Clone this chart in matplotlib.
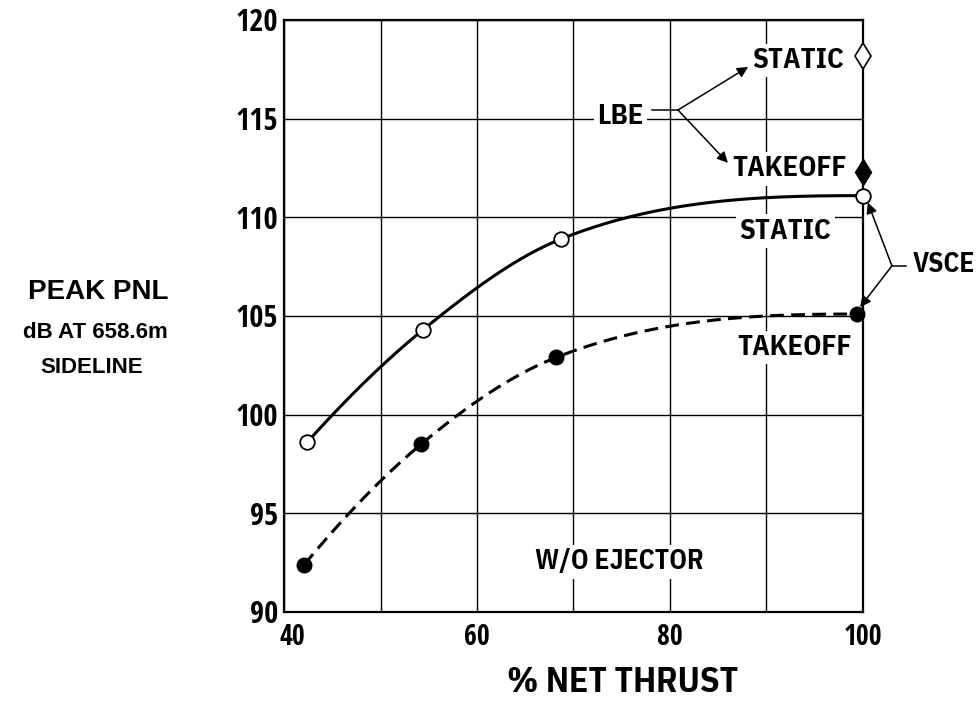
import numpy as np
import matplotlib
matplotlib.use("Agg")
import matplotlib.pyplot as plt
from matplotlib.transforms import ScaledTranslation

# ---- data -------------------------------------------------------------
thrust_static = [42.4, 54.4, 68.7, 100.0]
pnl_static = [98.6, 104.3, 108.9, 111.1]

thrust_takeoff = [42.1, 54.2, 68.2, 99.4]
pnl_takeoff = [92.4, 98.5, 102.9, 105.1]

lbe_thrust = [100.0, 100.0]
lbe_pnl = [118.2, 112.3]          # static, takeoff

x_ticks = [40, 50, 60, 70, 80, 90, 100]
x_tick_labels = ["40", "", "60", "", "80", "", "100"]
y_ticks = [90, 95, 100, 105, 110, 115, 120]

NARROW = ["Open Sans Condensed", "DejaVu Sans"]
LABEL = ["IBM Plex Sans Condensed", "Open Sans Condensed", "DejaVu Sans"]
WIDE = ["Liberation Sans", "DejaVu Sans"]


def smooth(x, y, n=200):
    """Cubic Hermite curve through the points; flat ends where the curve
    levels off."""
    x = np.asarray(x, float)
    y = np.asarray(y, float)
    h = np.diff(x)
    d = np.diff(y) / h
    m = np.zeros_like(x)
    for k in range(1, len(x) - 1):
        secant = (y[k + 1] - y[k - 1]) / (x[k + 1] - x[k - 1])
        parab = (h[k - 1] * d[k] + h[k] * d[k - 1]) / (h[k - 1] + h[k])
        m[k] = 0.5 * (secant + parab)
    m0 = ((2 * h[0] + h[1]) * d[0] - h[0] * d[1]) / (h[0] + h[1])
    m[0] = m0 if np.sign(m0) == np.sign(d[0]) else 0.0
    mn = ((2 * h[-1] + h[-2]) * d[-1] - h[-1] * d[-2]) / (h[-1] + h[-2])
    m[-1] = mn if np.sign(mn) == np.sign(d[-1]) else 0.0
    xs = np.linspace(x[0], x[-1], n)
    idx = np.clip(np.searchsorted(x, xs) - 1, 0, len(x) - 2)
    t = (xs - x[idx]) / h[idx]
    h00 = 2 * t**3 - 3 * t**2 + 1
    h10 = t**3 - 2 * t**2 + t
    h01 = -2 * t**3 + 3 * t**2
    h11 = t**3 - t**2
    ys = (h00 * y[idx] + h10 * h[idx] * m[idx]
          + h01 * y[idx + 1] + h11 * h[idx] * m[idx + 1])
    return xs, ys


fig = plt.figure(figsize=(9.77, 7.04), dpi=100)
ax = fig.add_axes([0.2907, 0.1307, 0.5926, 0.8409])

ax.set_xlim(40, 100)
ax.set_ylim(90, 120)
ax.set_xticks(x_ticks)
ax.set_xticklabels(x_tick_labels)
ax.set_yticks(y_ticks)
ax.set_yticklabels([str(v) for v in y_ticks])
ax.tick_params(axis="both", length=0)
ax.tick_params(axis="x", pad=8)
ax.tick_params(axis="y", pad=4)
for lab in ax.get_xticklabels():
    lab.set_fontfamily(NARROW)
    lab.set_fontweight("bold")
    lab.set_fontsize(20)
for lab in ax.get_yticklabels():
    lab.set_fontfamily(NARROW)
    lab.set_fontweight("bold")
    lab.set_fontsize(22)
# nudge the first x label clear of the "90" label
first = ax.get_xticklabels()[0]
first.set_transform(first.get_transform()
                    + ScaledTranslation(8 / 100, 0, fig.dpi_scale_trans))

ax.grid(True, color="black", linewidth=1.0)
ax.set_axisbelow(True)
for s in ax.spines.values():
    s.set_linewidth(1.6)
    s.set_color("black")

# curves
xs, ys = smooth(thrust_static, pnl_static)
ax.plot(xs, ys, color="black", lw=2.2, zorder=3, solid_capstyle="round")
xs, ys = smooth(thrust_takeoff, pnl_takeoff)
ax.plot(xs, ys, color="black", lw=2.2, zorder=3, dashes=(4.5, 2.4))

ax.plot(thrust_static, pnl_static, "o", ms=10.5, mfc="white", mec="black",
        mew=1.3, zorder=5, clip_on=False)
ax.plot(thrust_takeoff, pnl_takeoff, "o", ms=10.5, mfc="black", mec="black",
        zorder=5, clip_on=False)

# LBE points
ax.plot(lbe_thrust[0], lbe_pnl[0], "d", ms=13, mfc="white", mec="black",
        mew=1.2, zorder=5, clip_on=False)
ax.plot(lbe_thrust[1], lbe_pnl[1], "d", ms=13, mfc="black", mec="black",
        zorder=5, clip_on=False)

box = dict(facecolor="white", edgecolor="none", pad=2.5)
lbl = dict(family=LABEL, weight="bold", fontsize=20.5, ha="center",
           va="center", zorder=4, bbox=box)

ax.text(93.3, 117.95, "STATIC", **lbl)
ax.text(92.4, 112.45, "TAKEOFF", **lbl)
ax.text(91.95, 109.3, "STATIC", **lbl)
ax.text(92.95, 103.4, "TAKEOFF", **lbl)
ax.text(74.9, 115.1, "LBE", **lbl)
ax.text(74.8, 92.55, "W/O EJECTOR", **{**lbl, "fontsize": 19.8})

# LBE leader lines
arrow = dict(arrowstyle="-|>", lw=1.1, color="black", mutation_scale=16,
             shrinkA=0, shrinkB=0)
ax.plot([78.1, 80.83], [115.44, 115.44], color="black", lw=1.1, zorder=4)
ax.annotate("", xy=(88.1, 117.62), xytext=(80.83, 115.44),
            arrowprops=arrow, annotation_clip=False, zorder=4)
ax.annotate("", xy=(86.0, 112.76), xytext=(80.83, 115.44),
            arrowprops=arrow, annotation_clip=False, zorder=4)

# VSCE leader lines
ax.plot([103.0, 104.5], [107.54, 107.54], color="black", lw=1.1,
        clip_on=False, zorder=4)
ax.annotate("", xy=(100.5, 110.75), xytext=(103.0, 107.54),
            arrowprops=arrow, annotation_clip=False, zorder=4)
ax.annotate("", xy=(99.7, 105.45), xytext=(103.0, 107.54),
            arrowprops=arrow, annotation_clip=False, zorder=4)
ax.text(105.1, 107.6, "VSCE", family=LABEL, weight="bold", fontsize=19.5,
        ha="left", va="center", clip_on=False)

# axis titles
fig.text(623 / 977, 1 - 683 / 704, "% NET THRUST", family=LABEL,
         weight="bold", fontsize=25.5, ha="center", va="center")
fig.text(98.5 / 977, 1 - 292 / 704, "PEAK PNL", family=WIDE, weight="bold",
         fontsize=20, ha="center", va="center")
fig.text(95 / 977, 1 - 332 / 704, "dB AT 658.6m", family=WIDE, weight="bold",
         fontsize=16, ha="center", va="center")
fig.text(91.5 / 977, 1 - 367 / 704, "SIDELINE", family=WIDE, weight="bold",
         fontsize=16, ha="center", va="center")

fig.savefig("out.png", dpi=100, facecolor="white")
